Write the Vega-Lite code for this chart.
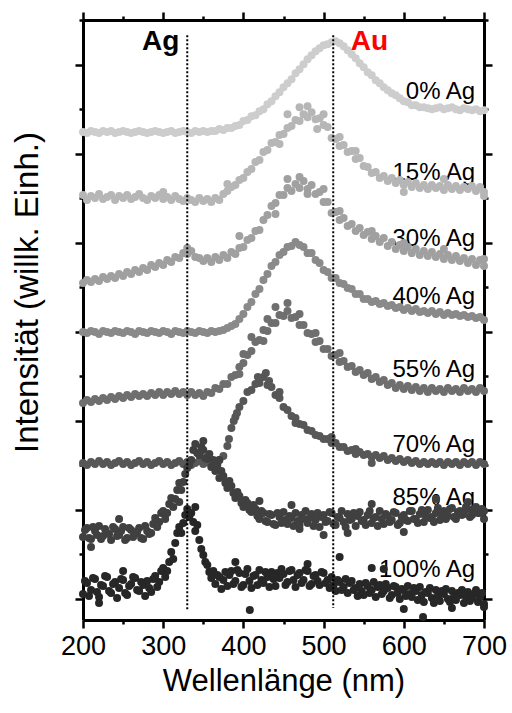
{
"$schema":"https://vega.github.io/schema/vega-lite/v6.json",
"width":401,"height":600,
"autosize":{"type":"none"},
"padding":{"left":83,"top":20,"right":28,"bottom":93},
"config":{"font":"Liberation Sans","view":{"stroke":null}},
"datasets":{
"labels":[{"t":"0% Ag","x":689,"y":500},{"t":"15% Ag","x":689,"y":419},{"t":"30% Ag","x":689,"y":353},{"t":"40% Ag","x":689,"y":295},{"t":"55% Ag","x":689,"y":222},{"t":"70% Ag","x":689,"y":147},{"t":"85% Ag","x":689,"y":94},{"t":"100% Ag","x":689,"y":22}],
"pts":[
{"p":0,"x":200,"y":467},{"p":0,"x":205,"y":466},{"p":0,"x":210,"y":468},{"p":0,"x":215,"y":467},{"p":0,"x":220,"y":466},{"p":0,"x":225,"y":468},{"p":0,"x":230,"y":467},{"p":0,"x":235,"y":468},{"p":0,"x":240,"y":466},{"p":0,"x":245,"y":467},{"p":0,"x":250,"y":468},{"p":0,"x":255,"y":467},{"p":0,"x":260,"y":466},{"p":0,"x":265,"y":467},{"p":0,"x":270,"y":468},{"p":0,"x":275,"y":467},{"p":0,"x":280,"y":466},{"p":0,"x":285,"y":467},{"p":0,"x":290,"y":468},{"p":0,"x":295,"y":467},{"p":0,"x":300,"y":466},{"p":0,"x":305,"y":467},{"p":0,"x":310,"y":468},{"p":0,"x":315,"y":466},{"p":0,"x":320,"y":467},{"p":0,"x":325,"y":468},{"p":0,"x":330,"y":467},{"p":0,"x":335,"y":466},{"p":0,"x":340,"y":468},{"p":0,"x":345,"y":467},{"p":0,"x":350,"y":468},{"p":0,"x":355,"y":467},{"p":0,"x":360,"y":468},{"p":0,"x":365,"y":468},{"p":0,"x":370,"y":470},{"p":0,"x":375,"y":469},{"p":0,"x":380,"y":471},{"p":0,"x":385,"y":471},{"p":0,"x":390,"y":473},{"p":0,"x":395,"y":474},{"p":0,"x":400,"y":478},{"p":0,"x":405,"y":479},{"p":0,"x":410,"y":483},{"p":0,"x":415,"y":484},{"p":0,"x":420,"y":488},{"p":0,"x":425,"y":490},{"p":0,"x":430,"y":495},{"p":0,"x":435,"y":498},{"p":0,"x":440,"y":503},{"p":0,"x":445,"y":507},{"p":0,"x":450,"y":512},{"p":0,"x":455,"y":516},{"p":0,"x":460,"y":520},{"p":0,"x":465,"y":526},{"p":0,"x":470,"y":530},{"p":0,"x":475,"y":535},{"p":0,"x":480,"y":540},{"p":0,"x":485,"y":544},{"p":0,"x":490,"y":548},{"p":0,"x":495,"y":551},{"p":0,"x":500,"y":554},{"p":0,"x":505,"y":555},{"p":0,"x":510,"y":557},{"p":0,"x":515,"y":558},{"p":0,"x":520,"y":556},{"p":0,"x":525,"y":553},{"p":0,"x":530,"y":549},{"p":0,"x":535,"y":545},{"p":0,"x":540,"y":541},{"p":0,"x":545,"y":536},{"p":0,"x":550,"y":532},{"p":0,"x":555,"y":527},{"p":0,"x":560,"y":524},{"p":0,"x":565,"y":519},{"p":0,"x":570,"y":516},{"p":0,"x":575,"y":512},{"p":0,"x":580,"y":509},{"p":0,"x":585,"y":506},{"p":0,"x":590,"y":504},{"p":0,"x":595,"y":501},{"p":0,"x":600,"y":498},{"p":0,"x":605,"y":497},{"p":0,"x":610,"y":494},{"p":0,"x":615,"y":494},{"p":0,"x":620,"y":492},{"p":0,"x":625,"y":492},{"p":0,"x":630,"y":491},{"p":0,"x":635,"y":490},{"p":0,"x":640,"y":491},{"p":0,"x":645,"y":492},{"p":0,"x":650,"y":490},{"p":0,"x":655,"y":491},{"p":0,"x":660,"y":492},{"p":0,"x":665,"y":490},{"p":0,"x":670,"y":489},{"p":0,"x":675,"y":491},{"p":0,"x":680,"y":490},{"p":0,"x":685,"y":489},{"p":0,"x":690,"y":490},{"p":0,"x":695,"y":488},{"p":0,"x":700,"y":489},
{"p":15,"x":200,"y":404},{"p":15,"x":205,"y":399},{"p":15,"x":210,"y":403},{"p":15,"x":215,"y":401},{"p":15,"x":220,"y":405},{"p":15,"x":225,"y":400},{"p":15,"x":230,"y":402},{"p":15,"x":235,"y":404},{"p":15,"x":240,"y":399},{"p":15,"x":245,"y":403},{"p":15,"x":250,"y":401},{"p":15,"x":255,"y":404},{"p":15,"x":260,"y":400},{"p":15,"x":265,"y":402},{"p":15,"x":270,"y":405},{"p":15,"x":275,"y":401},{"p":15,"x":280,"y":399},{"p":15,"x":285,"y":403},{"p":15,"x":290,"y":401},{"p":15,"x":295,"y":404},{"p":15,"x":300,"y":400},{"p":15,"x":305,"y":402},{"p":15,"x":310,"y":399},{"p":15,"x":315,"y":403},{"p":15,"x":320,"y":400},{"p":15,"x":325,"y":398},{"p":15,"x":330,"y":401},{"p":15,"x":335,"y":399},{"p":15,"x":340,"y":397},{"p":15,"x":345,"y":401},{"p":15,"x":350,"y":398},{"p":15,"x":355,"y":400},{"p":15,"x":360,"y":397},{"p":15,"x":365,"y":401},{"p":15,"x":370,"y":399},{"p":15,"x":375,"y":405},{"p":15,"x":380,"y":408},{"p":15,"x":385,"y":412},{"p":15,"x":390,"y":414},{"p":15,"x":395,"y":419},{"p":15,"x":400,"y":421},{"p":15,"x":405,"y":427},{"p":15,"x":410,"y":430},{"p":15,"x":415,"y":437},{"p":15,"x":420,"y":439},{"p":15,"x":425,"y":447},{"p":15,"x":430,"y":449},{"p":15,"x":435,"y":456},{"p":15,"x":440,"y":457},{"p":15,"x":445,"y":464},{"p":15,"x":450,"y":465},{"p":15,"x":455,"y":471},{"p":15,"x":460,"y":473},{"p":15,"x":465,"y":479},{"p":15,"x":470,"y":478},{"p":15,"x":475,"y":485},{"p":15,"x":480,"y":482},{"p":15,"x":485,"y":487},{"p":15,"x":490,"y":480},{"p":15,"x":495,"y":481},{"p":15,"x":500,"y":474},{"p":15,"x":505,"y":472},{"p":15,"x":510,"y":461},{"p":15,"x":515,"y":460},{"p":15,"x":520,"y":453},{"p":15,"x":525,"y":454},{"p":15,"x":530,"y":447},{"p":15,"x":535,"y":448},{"p":15,"x":540,"y":440},{"p":15,"x":545,"y":441},{"p":15,"x":550,"y":433},{"p":15,"x":555,"y":432},{"p":15,"x":560,"y":426},{"p":15,"x":565,"y":427},{"p":15,"x":570,"y":421},{"p":15,"x":575,"y":423},{"p":15,"x":580,"y":418},{"p":15,"x":585,"y":421},{"p":15,"x":590,"y":416},{"p":15,"x":595,"y":419},{"p":15,"x":600,"y":414},{"p":15,"x":605,"y":417},{"p":15,"x":610,"y":412},{"p":15,"x":615,"y":416},{"p":15,"x":620,"y":411},{"p":15,"x":625,"y":414},{"p":15,"x":630,"y":410},{"p":15,"x":635,"y":414},{"p":15,"x":640,"y":411},{"p":15,"x":645,"y":413},{"p":15,"x":650,"y":409},{"p":15,"x":655,"y":414},{"p":15,"x":660,"y":410},{"p":15,"x":665,"y":413},{"p":15,"x":670,"y":409},{"p":15,"x":675,"y":412},{"p":15,"x":680,"y":410},{"p":15,"x":685,"y":413},{"p":15,"x":690,"y":408},{"p":15,"x":695,"y":412},{"p":15,"x":700,"y":407},
{"p":15,"x":455,"y":485},{"p":15,"x":470,"y":492},{"p":15,"x":480,"y":493},{"p":15,"x":500,"y":485},{"p":15,"x":520,"y":462},{"p":15,"x":540,"y":448},{"p":15,"x":600,"y":407},{"p":15,"x":650,"y":420},{"p":15,"x":700,"y":403},{"p":15,"x":380,"y":415},{"p":15,"x":300,"y":407},{"p":15,"x":445,"y":455},{"p":15,"x":492,"y":470},
{"p":30,"x":200,"y":316},{"p":30,"x":205,"y":319},{"p":30,"x":210,"y":317},{"p":30,"x":215,"y":320},{"p":30,"x":220,"y":318},{"p":30,"x":225,"y":322},{"p":30,"x":230,"y":320},{"p":30,"x":235,"y":323},{"p":30,"x":240,"y":321},{"p":30,"x":245,"y":325},{"p":30,"x":250,"y":323},{"p":30,"x":255,"y":327},{"p":30,"x":260,"y":325},{"p":30,"x":265,"y":329},{"p":30,"x":270,"y":327},{"p":30,"x":275,"y":331},{"p":30,"x":280,"y":329},{"p":30,"x":285,"y":334},{"p":30,"x":290,"y":332},{"p":30,"x":295,"y":336},{"p":30,"x":300,"y":334},{"p":30,"x":305,"y":339},{"p":30,"x":310,"y":337},{"p":30,"x":315,"y":342},{"p":30,"x":320,"y":341},{"p":30,"x":325,"y":346},{"p":30,"x":330,"y":345},{"p":30,"x":335,"y":348},{"p":30,"x":340,"y":342},{"p":30,"x":345,"y":341},{"p":30,"x":350,"y":338},{"p":30,"x":355,"y":341},{"p":30,"x":360,"y":337},{"p":30,"x":365,"y":342},{"p":30,"x":370,"y":339},{"p":30,"x":375,"y":344},{"p":30,"x":380,"y":341},{"p":30,"x":385,"y":347},{"p":30,"x":390,"y":345},{"p":30,"x":395,"y":351},{"p":30,"x":400,"y":352},{"p":30,"x":405,"y":359},{"p":30,"x":410,"y":361},{"p":30,"x":415,"y":368},{"p":30,"x":420,"y":369},{"p":30,"x":425,"y":379},{"p":30,"x":430,"y":384},{"p":30,"x":435,"y":393},{"p":30,"x":440,"y":396},{"p":30,"x":445,"y":404},{"p":30,"x":450,"y":404},{"p":30,"x":455,"y":411},{"p":30,"x":460,"y":408},{"p":30,"x":465,"y":415},{"p":30,"x":470,"y":411},{"p":30,"x":475,"y":418},{"p":30,"x":480,"y":410},{"p":30,"x":485,"y":414},{"p":30,"x":490,"y":405},{"p":30,"x":495,"y":407},{"p":30,"x":500,"y":397},{"p":30,"x":505,"y":397},{"p":30,"x":510,"y":386},{"p":30,"x":515,"y":387},{"p":30,"x":520,"y":379},{"p":30,"x":525,"y":381},{"p":30,"x":530,"y":373},{"p":30,"x":535,"y":375},{"p":30,"x":540,"y":368},{"p":30,"x":545,"y":371},{"p":30,"x":550,"y":364},{"p":30,"x":555,"y":367},{"p":30,"x":560,"y":360},{"p":30,"x":565,"y":363},{"p":30,"x":570,"y":357},{"p":30,"x":575,"y":361},{"p":30,"x":580,"y":353},{"p":30,"x":585,"y":357},{"p":30,"x":590,"y":350},{"p":30,"x":595,"y":354},{"p":30,"x":600,"y":348},{"p":30,"x":605,"y":352},{"p":30,"x":610,"y":346},{"p":30,"x":615,"y":350},{"p":30,"x":620,"y":344},{"p":30,"x":625,"y":348},{"p":30,"x":630,"y":343},{"p":30,"x":635,"y":347},{"p":30,"x":640,"y":342},{"p":30,"x":645,"y":345},{"p":30,"x":650,"y":340},{"p":30,"x":655,"y":344},{"p":30,"x":660,"y":339},{"p":30,"x":665,"y":343},{"p":30,"x":670,"y":338},{"p":30,"x":675,"y":341},{"p":30,"x":680,"y":336},{"p":30,"x":685,"y":340},{"p":30,"x":690,"y":334},{"p":30,"x":695,"y":339},{"p":30,"x":700,"y":333},
{"p":30,"x":395,"y":363},{"p":30,"x":455,"y":420},{"p":30,"x":470,"y":422},{"p":30,"x":480,"y":405},{"p":30,"x":500,"y":410},{"p":30,"x":520,"y":388},{"p":30,"x":440,"y":385},{"p":30,"x":560,"y":368},{"p":30,"x":650,"y":350},{"p":30,"x":700,"y":340},{"p":30,"x":330,"y":351},{"p":30,"x":600,"y":356},
{"p":40,"x":200,"y":267},{"p":40,"x":205,"y":266},{"p":40,"x":210,"y":268},{"p":40,"x":215,"y":267},{"p":40,"x":220,"y":265},{"p":40,"x":225,"y":268},{"p":40,"x":230,"y":267},{"p":40,"x":235,"y":266},{"p":40,"x":240,"y":268},{"p":40,"x":245,"y":267},{"p":40,"x":250,"y":266},{"p":40,"x":255,"y":268},{"p":40,"x":260,"y":267},{"p":40,"x":265,"y":265},{"p":40,"x":270,"y":268},{"p":40,"x":275,"y":267},{"p":40,"x":280,"y":266},{"p":40,"x":285,"y":268},{"p":40,"x":290,"y":267},{"p":40,"x":295,"y":266},{"p":40,"x":300,"y":268},{"p":40,"x":305,"y":267},{"p":40,"x":310,"y":265},{"p":40,"x":315,"y":268},{"p":40,"x":320,"y":267},{"p":40,"x":325,"y":266},{"p":40,"x":330,"y":268},{"p":40,"x":335,"y":267},{"p":40,"x":340,"y":266},{"p":40,"x":345,"y":268},{"p":40,"x":350,"y":267},{"p":40,"x":355,"y":266},{"p":40,"x":360,"y":268},{"p":40,"x":365,"y":267},{"p":40,"x":370,"y":268},{"p":40,"x":375,"y":269},{"p":40,"x":380,"y":271},{"p":40,"x":385,"y":273},{"p":40,"x":390,"y":275},{"p":40,"x":395,"y":280},{"p":40,"x":400,"y":285},{"p":40,"x":405,"y":292},{"p":40,"x":410,"y":297},{"p":40,"x":415,"y":305},{"p":40,"x":420,"y":310},{"p":40,"x":425,"y":319},{"p":40,"x":430,"y":325},{"p":40,"x":435,"y":333},{"p":40,"x":440,"y":337},{"p":40,"x":445,"y":344},{"p":40,"x":450,"y":347},{"p":40,"x":455,"y":352},{"p":40,"x":460,"y":353},{"p":40,"x":465,"y":357},{"p":40,"x":470,"y":354},{"p":40,"x":475,"y":352},{"p":40,"x":480,"y":346},{"p":40,"x":485,"y":346},{"p":40,"x":490,"y":339},{"p":40,"x":495,"y":336},{"p":40,"x":500,"y":329},{"p":40,"x":505,"y":327},{"p":40,"x":510,"y":321},{"p":40,"x":515,"y":321},{"p":40,"x":520,"y":316},{"p":40,"x":525,"y":315},{"p":40,"x":530,"y":311},{"p":40,"x":535,"y":310},{"p":40,"x":540,"y":305},{"p":40,"x":545,"y":305},{"p":40,"x":550,"y":300},{"p":40,"x":555,"y":300},{"p":40,"x":560,"y":297},{"p":40,"x":565,"y":298},{"p":40,"x":570,"y":295},{"p":40,"x":575,"y":296},{"p":40,"x":580,"y":293},{"p":40,"x":585,"y":294},{"p":40,"x":590,"y":291},{"p":40,"x":595,"y":292},{"p":40,"x":600,"y":289},{"p":40,"x":605,"y":291},{"p":40,"x":610,"y":288},{"p":40,"x":615,"y":290},{"p":40,"x":620,"y":287},{"p":40,"x":625,"y":288},{"p":40,"x":630,"y":286},{"p":40,"x":635,"y":288},{"p":40,"x":640,"y":285},{"p":40,"x":645,"y":287},{"p":40,"x":650,"y":284},{"p":40,"x":655,"y":286},{"p":40,"x":660,"y":284},{"p":40,"x":665,"y":285},{"p":40,"x":670,"y":283},{"p":40,"x":675,"y":284},{"p":40,"x":680,"y":282},{"p":40,"x":685,"y":283},{"p":40,"x":690,"y":281},{"p":40,"x":695,"y":282},{"p":40,"x":700,"y":279},
{"p":55,"x":200,"y":196},{"p":55,"x":205,"y":199},{"p":55,"x":210,"y":197},{"p":55,"x":215,"y":200},{"p":55,"x":220,"y":198},{"p":55,"x":225,"y":201},{"p":55,"x":230,"y":199},{"p":55,"x":235,"y":202},{"p":55,"x":240,"y":200},{"p":55,"x":245,"y":203},{"p":55,"x":250,"y":201},{"p":55,"x":255,"y":204},{"p":55,"x":260,"y":202},{"p":55,"x":265,"y":205},{"p":55,"x":270,"y":203},{"p":55,"x":275,"y":205},{"p":55,"x":280,"y":203},{"p":55,"x":285,"y":206},{"p":55,"x":290,"y":204},{"p":55,"x":295,"y":207},{"p":55,"x":300,"y":204},{"p":55,"x":305,"y":207},{"p":55,"x":310,"y":205},{"p":55,"x":315,"y":208},{"p":55,"x":320,"y":205},{"p":55,"x":325,"y":207},{"p":55,"x":330,"y":204},{"p":55,"x":335,"y":207},{"p":55,"x":340,"y":204},{"p":55,"x":345,"y":206},{"p":55,"x":350,"y":203},{"p":55,"x":355,"y":207},{"p":55,"x":360,"y":206},{"p":55,"x":365,"y":211},{"p":55,"x":370,"y":210},{"p":55,"x":375,"y":215},{"p":55,"x":380,"y":215},{"p":55,"x":385,"y":222},{"p":55,"x":390,"y":224},{"p":55,"x":395,"y":232},{"p":55,"x":400,"y":236},{"p":55,"x":405,"y":244},{"p":55,"x":410,"y":248},{"p":55,"x":415,"y":257},{"p":55,"x":420,"y":259},{"p":55,"x":425,"y":269},{"p":55,"x":430,"y":268},{"p":55,"x":435,"y":276},{"p":55,"x":440,"y":276},{"p":55,"x":445,"y":284},{"p":55,"x":450,"y":283},{"p":55,"x":455,"y":288},{"p":55,"x":460,"y":281},{"p":55,"x":465,"y":282},{"p":55,"x":470,"y":274},{"p":55,"x":475,"y":274},{"p":55,"x":480,"y":266},{"p":55,"x":485,"y":265},{"p":55,"x":490,"y":257},{"p":55,"x":495,"y":258},{"p":55,"x":500,"y":250},{"p":55,"x":505,"y":250},{"p":55,"x":510,"y":243},{"p":55,"x":515,"y":244},{"p":55,"x":520,"y":237},{"p":55,"x":525,"y":238},{"p":55,"x":530,"y":232},{"p":55,"x":535,"y":233},{"p":55,"x":540,"y":227},{"p":55,"x":545,"y":229},{"p":55,"x":550,"y":224},{"p":55,"x":555,"y":226},{"p":55,"x":560,"y":220},{"p":55,"x":565,"y":222},{"p":55,"x":570,"y":217},{"p":55,"x":575,"y":219},{"p":55,"x":580,"y":214},{"p":55,"x":585,"y":216},{"p":55,"x":590,"y":211},{"p":55,"x":595,"y":214},{"p":55,"x":600,"y":210},{"p":55,"x":605,"y":213},{"p":55,"x":610,"y":209},{"p":55,"x":615,"y":212},{"p":55,"x":620,"y":208},{"p":55,"x":625,"y":211},{"p":55,"x":630,"y":207},{"p":55,"x":635,"y":211},{"p":55,"x":640,"y":208},{"p":55,"x":645,"y":210},{"p":55,"x":650,"y":207},{"p":55,"x":655,"y":211},{"p":55,"x":660,"y":208},{"p":55,"x":665,"y":210},{"p":55,"x":670,"y":207},{"p":55,"x":675,"y":211},{"p":55,"x":680,"y":208},{"p":55,"x":685,"y":210},{"p":55,"x":690,"y":207},{"p":55,"x":695,"y":211},{"p":55,"x":700,"y":208},
{"p":55,"x":410,"y":262},{"p":55,"x":425,"y":258},{"p":55,"x":440,"y":292},{"p":55,"x":455,"y":296},{"p":55,"x":470,"y":285},{"p":55,"x":490,"y":266},{"p":55,"x":520,"y":246},{"p":55,"x":430,"y":280},{"p":55,"x":400,"y":245},{"p":55,"x":395,"y":225},
{"p":70,"x":200,"y":136},{"p":70,"x":205,"y":134},{"p":70,"x":210,"y":137},{"p":70,"x":215,"y":135},{"p":70,"x":220,"y":138},{"p":70,"x":225,"y":135},{"p":70,"x":230,"y":137},{"p":70,"x":235,"y":134},{"p":70,"x":240,"y":136},{"p":70,"x":245,"y":138},{"p":70,"x":250,"y":135},{"p":70,"x":255,"y":137},{"p":70,"x":260,"y":134},{"p":70,"x":265,"y":136},{"p":70,"x":270,"y":138},{"p":70,"x":275,"y":135},{"p":70,"x":280,"y":137},{"p":70,"x":285,"y":134},{"p":70,"x":290,"y":136},{"p":70,"x":295,"y":138},{"p":70,"x":300,"y":135},{"p":70,"x":305,"y":137},{"p":70,"x":310,"y":134},{"p":70,"x":315,"y":136},{"p":70,"x":320,"y":138},{"p":70,"x":325,"y":135},{"p":70,"x":330,"y":137},{"p":70,"x":335,"y":134},{"p":70,"x":340,"y":136},{"p":70,"x":345,"y":138},{"p":70,"x":350,"y":135},{"p":70,"x":355,"y":137},{"p":70,"x":360,"y":134},{"p":70,"x":365,"y":136},{"p":70,"x":370,"y":139},{"p":70,"x":375,"y":143},{"p":70,"x":380,"y":153},{"p":70,"x":385,"y":171},{"p":70,"x":390,"y":182},{"p":70,"x":395,"y":192},{"p":70,"x":400,"y":198},{"p":70,"x":405,"y":207},{"p":70,"x":410,"y":209},{"p":70,"x":415,"y":215},{"p":70,"x":420,"y":216},{"p":70,"x":425,"y":222},{"p":70,"x":430,"y":214},{"p":70,"x":435,"y":212},{"p":70,"x":440,"y":204},{"p":70,"x":445,"y":201},{"p":70,"x":450,"y":192},{"p":70,"x":455,"y":189},{"p":70,"x":460,"y":183},{"p":70,"x":465,"y":181},{"p":70,"x":470,"y":175},{"p":70,"x":475,"y":174},{"p":70,"x":480,"y":169},{"p":70,"x":485,"y":168},{"p":70,"x":490,"y":164},{"p":70,"x":495,"y":163},{"p":70,"x":500,"y":160},{"p":70,"x":505,"y":160},{"p":70,"x":510,"y":156},{"p":70,"x":515,"y":156},{"p":70,"x":520,"y":152},{"p":70,"x":525,"y":152},{"p":70,"x":530,"y":148},{"p":70,"x":535,"y":149},{"p":70,"x":540,"y":145},{"p":70,"x":545,"y":147},{"p":70,"x":550,"y":144},{"p":70,"x":555,"y":145},{"p":70,"x":560,"y":142},{"p":70,"x":565,"y":144},{"p":70,"x":570,"y":141},{"p":70,"x":575,"y":143},{"p":70,"x":580,"y":139},{"p":70,"x":585,"y":141},{"p":70,"x":590,"y":138},{"p":70,"x":595,"y":140},{"p":70,"x":600,"y":137},{"p":70,"x":605,"y":139},{"p":70,"x":610,"y":136},{"p":70,"x":615,"y":138},{"p":70,"x":620,"y":135},{"p":70,"x":625,"y":137},{"p":70,"x":630,"y":135},{"p":70,"x":635,"y":137},{"p":70,"x":640,"y":135},{"p":70,"x":645,"y":137},{"p":70,"x":650,"y":134},{"p":70,"x":655,"y":137},{"p":70,"x":660,"y":135},{"p":70,"x":665,"y":137},{"p":70,"x":670,"y":134},{"p":70,"x":675,"y":137},{"p":70,"x":680,"y":135},{"p":70,"x":685,"y":137},{"p":70,"x":690,"y":134},{"p":70,"x":695,"y":137},{"p":70,"x":700,"y":135},
{"p":70,"x":382,"y":160},{"p":70,"x":388,"y":178},{"p":70,"x":392,"y":186},{"p":70,"x":418,"y":222},{"p":70,"x":428,"y":226},{"p":70,"x":432,"y":218},{"p":70,"x":445,"y":207},{"p":70,"x":465,"y":176},{"p":70,"x":510,"y":162},{"p":70,"x":540,"y":150},{"p":70,"x":560,"y":136},
{"p":85,"x":200,"y":62},{"p":85,"x":202.5,"y":69},{"p":85,"x":205,"y":71},{"p":85,"x":207.5,"y":61},{"p":85,"x":210,"y":60},{"p":85,"x":212.5,"y":72},{"p":85,"x":215,"y":68},{"p":85,"x":217.5,"y":64},{"p":85,"x":220,"y":73},{"p":85,"x":222.5,"y":60},{"p":85,"x":225,"y":63},{"p":85,"x":227.5,"y":70},{"p":85,"x":230,"y":66},{"p":85,"x":232.5,"y":65},{"p":85,"x":235,"y":59},{"p":85,"x":237.5,"y":72},{"p":85,"x":240,"y":70},{"p":85,"x":242.5,"y":63},{"p":85,"x":245,"y":64},{"p":85,"x":247.5,"y":68},{"p":85,"x":250,"y":72},{"p":85,"x":252.5,"y":59},{"p":85,"x":255,"y":61},{"p":85,"x":257.5,"y":71},{"p":85,"x":260,"y":69},{"p":85,"x":262.5,"y":62},{"p":85,"x":265,"y":65},{"p":85,"x":267.5,"y":67},{"p":85,"x":270,"y":71},{"p":85,"x":272.5,"y":61},{"p":85,"x":275,"y":60},{"p":85,"x":277.5,"y":73},{"p":85,"x":280,"y":68},{"p":85,"x":282.5,"y":65},{"p":85,"x":285,"y":66},{"p":85,"x":287.5,"y":75},{"p":85,"x":290,"y":81},{"p":85,"x":292.5,"y":72},{"p":85,"x":295,"y":77},{"p":85,"x":297.5,"y":86},{"p":85,"x":300,"y":88},{"p":85,"x":302.5,"y":80},{"p":85,"x":305,"y":86},{"p":85,"x":307.5,"y":95},{"p":85,"x":310,"y":101},{"p":85,"x":312.5,"y":92},{"p":85,"x":315,"y":100},{"p":85,"x":317.5,"y":109},{"p":85,"x":320,"y":116},{"p":85,"x":322.5,"y":109},{"p":85,"x":325,"y":117},{"p":85,"x":327.5,"y":125},{"p":85,"x":330,"y":131},{"p":85,"x":332.5,"y":134},{"p":85,"x":335,"y":139},{"p":85,"x":337.5,"y":149},{"p":85,"x":340,"y":155},{"p":85,"x":342.5,"y":146},{"p":85,"x":345,"y":144},{"p":85,"x":347.5,"y":152},{"p":85,"x":350,"y":149},{"p":85,"x":352.5,"y":141},{"p":85,"x":355,"y":140},{"p":85,"x":357.5,"y":145},{"p":85,"x":360,"y":132},{"p":85,"x":362.5,"y":139},{"p":85,"x":365,"y":128},{"p":85,"x":367.5,"y":134},{"p":85,"x":370,"y":121},{"p":85,"x":372.5,"y":128},{"p":85,"x":375,"y":123},{"p":85,"x":377.5,"y":116},{"p":85,"x":380,"y":111},{"p":85,"x":382.5,"y":118},{"p":85,"x":385,"y":113},{"p":85,"x":387.5,"y":106},{"p":85,"x":390,"y":101},{"p":85,"x":392.5,"y":107},{"p":85,"x":395,"y":103},{"p":85,"x":397.5,"y":96},{"p":85,"x":400,"y":92},{"p":85,"x":402.5,"y":99},{"p":85,"x":405,"y":96},{"p":85,"x":407.5,"y":89},{"p":85,"x":410,"y":87},{"p":85,"x":412.5,"y":94},{"p":85,"x":415,"y":90},{"p":85,"x":417.5,"y":83},{"p":85,"x":420,"y":80},{"p":85,"x":422.5,"y":88},{"p":85,"x":425,"y":86},{"p":85,"x":427.5,"y":78},{"p":85,"x":430,"y":77},{"p":85,"x":432.5,"y":85},{"p":85,"x":435,"y":84},{"p":85,"x":437.5,"y":75},{"p":85,"x":440,"y":74},{"p":85,"x":442.5,"y":86},{"p":85,"x":445,"y":82},{"p":85,"x":447.5,"y":76},{"p":85,"x":450,"y":87},{"p":85,"x":452.5,"y":79},{"p":85,"x":455,"y":75},{"p":85,"x":457.5,"y":83},{"p":85,"x":460,"y":81},{"p":85,"x":462.5,"y":73},{"p":85,"x":465,"y":86},{"p":85,"x":467.5,"y":78},{"p":85,"x":470,"y":74},{"p":85,"x":472.5,"y":84},{"p":85,"x":475,"y":80},{"p":85,"x":477.5,"y":88},{"p":85,"x":480,"y":76},{"p":85,"x":482.5,"y":81},{"p":85,"x":485,"y":85},{"p":85,"x":487.5,"y":73},{"p":85,"x":490,"y":79},{"p":85,"x":492.5,"y":86},{"p":85,"x":495,"y":72},{"p":85,"x":497.5,"y":82},{"p":85,"x":500,"y":84},{"p":85,"x":502.5,"y":77},{"p":85,"x":505,"y":78},{"p":85,"x":507.5,"y":87},{"p":85,"x":510,"y":86},{"p":85,"x":512.5,"y":75},{"p":85,"x":515,"y":74},{"p":85,"x":517.5,"y":82},{"p":85,"x":520,"y":81},{"p":85,"x":522.5,"y":88},{"p":85,"x":525,"y":77},{"p":85,"x":527.5,"y":72},{"p":85,"x":530,"y":85},{"p":85,"x":532.5,"y":79},{"p":85,"x":535,"y":80},{"p":85,"x":537.5,"y":86},{"p":85,"x":540,"y":73},{"p":85,"x":542.5,"y":83},{"p":85,"x":545,"y":87},{"p":85,"x":547.5,"y":78},{"p":85,"x":550,"y":79},{"p":85,"x":552.5,"y":74},{"p":85,"x":555,"y":84},{"p":85,"x":557.5,"y":88},{"p":85,"x":560,"y":76},{"p":85,"x":562.5,"y":81},{"p":85,"x":565,"y":82},{"p":85,"x":567.5,"y":73},{"p":85,"x":570,"y":88},{"p":85,"x":572.5,"y":80},{"p":85,"x":575,"y":75},{"p":85,"x":577.5,"y":85},{"p":85,"x":580,"y":83},{"p":85,"x":582.5,"y":77},{"p":85,"x":585,"y":79},{"p":85,"x":587.5,"y":87},{"p":85,"x":590,"y":86},{"p":85,"x":592.5,"y":74},{"p":85,"x":595,"y":76},{"p":85,"x":597.5,"y":82},{"p":85,"x":600,"y":84},{"p":85,"x":602.5,"y":79},{"p":85,"x":605,"y":78},{"p":85,"x":607.5,"y":88},{"p":85,"x":610,"y":88},{"p":85,"x":612.5,"y":80},{"p":85,"x":615,"y":80},{"p":85,"x":617.5,"y":76},{"p":85,"x":620,"y":85},{"p":85,"x":622.5,"y":89},{"p":85,"x":625,"y":77},{"p":85,"x":627.5,"y":83},{"p":85,"x":630,"y":89},{"p":85,"x":632.5,"y":81},{"p":85,"x":635,"y":82},{"p":85,"x":637.5,"y":77},{"p":85,"x":640,"y":86},{"p":85,"x":642.5,"y":91},{"p":85,"x":645,"y":79},{"p":85,"x":647.5,"y":84},{"p":85,"x":650,"y":88},{"p":85,"x":652.5,"y":80},{"p":85,"x":655,"y":83},{"p":85,"x":657.5,"y":90},{"p":85,"x":660,"y":91},{"p":85,"x":662.5,"y":82},{"p":85,"x":665,"y":80},{"p":85,"x":667.5,"y":87},{"p":85,"x":670,"y":88},{"p":85,"x":672.5,"y":84},{"p":85,"x":675,"y":85},{"p":85,"x":677.5,"y":92},{"p":85,"x":680,"y":90},{"p":85,"x":682.5,"y":82},{"p":85,"x":685,"y":84},{"p":85,"x":687.5,"y":89},{"p":85,"x":690,"y":92},{"p":85,"x":692.5,"y":86},{"p":85,"x":695,"y":86},{"p":85,"x":697.5,"y":90},{"p":85,"x":700,"y":88},
{"p":85,"x":420,"y":98},{"p":85,"x":460,"y":94},{"p":85,"x":500,"y":64},{"p":85,"x":530,"y":66},{"p":85,"x":560,"y":95},{"p":85,"x":600,"y":67},{"p":85,"x":640,"y":100},{"p":85,"x":680,"y":97},{"p":85,"x":210,"y":52},{"p":85,"x":245,"y":80},{"p":85,"x":320,"y":97},{"p":85,"x":350,"y":158},{"p":85,"x":370,"y":139},{"p":85,"x":470,"y":70},{"p":85,"x":700,"y":80},
{"p":100,"x":200,"y":5},{"p":100,"x":202.5,"y":18},{"p":100,"x":205,"y":16},{"p":100,"x":207.5,"y":3},{"p":100,"x":210,"y":9},{"p":100,"x":212.5,"y":21},{"p":100,"x":215,"y":20},{"p":100,"x":217.5,"y":7},{"p":100,"x":220,"y":2},{"p":100,"x":222.5,"y":14},{"p":100,"x":225,"y":13},{"p":100,"x":227.5,"y":23},{"p":100,"x":230,"y":22},{"p":100,"x":232.5,"y":8},{"p":100,"x":235,"y":6},{"p":100,"x":237.5,"y":15},{"p":100,"x":240,"y":17},{"p":100,"x":242.5,"y":1},{"p":100,"x":245,"y":11},{"p":100,"x":247.5,"y":20},{"p":100,"x":250,"y":19},{"p":100,"x":252.5,"y":6},{"p":100,"x":255,"y":4},{"p":100,"x":257.5,"y":13},{"p":100,"x":260,"y":15},{"p":100,"x":262.5,"y":22},{"p":100,"x":265,"y":21},{"p":100,"x":267.5,"y":9},{"p":100,"x":270,"y":8},{"p":100,"x":272.5,"y":17},{"p":100,"x":275,"y":14},{"p":100,"x":277.5,"y":3},{"p":100,"x":280,"y":18},{"p":100,"x":282.5,"y":11},{"p":100,"x":285,"y":7},{"p":100,"x":287.5,"y":20},{"p":100,"x":290,"y":23},{"p":100,"x":292.5,"y":12},{"p":100,"x":295,"y":17},{"p":100,"x":297.5,"y":28},{"p":100,"x":300,"y":31},{"p":100,"x":302.5,"y":22},{"p":100,"x":305,"y":28},{"p":100,"x":307.5,"y":37},{"p":100,"x":310,"y":47},{"p":100,"x":312.5,"y":40},{"p":100,"x":315,"y":56},{"p":100,"x":317.5,"y":66},{"p":100,"x":320,"y":72},{"p":100,"x":322.5,"y":66},{"p":100,"x":325,"y":76},{"p":100,"x":327.5,"y":84},{"p":100,"x":330,"y":90},{"p":100,"x":332.5,"y":82},{"p":100,"x":335,"y":86},{"p":100,"x":337.5,"y":77},{"p":100,"x":340,"y":68},{"p":100,"x":342.5,"y":74},{"p":100,"x":345,"y":59},{"p":100,"x":347.5,"y":50},{"p":100,"x":350,"y":44},{"p":100,"x":352.5,"y":37},{"p":100,"x":355,"y":34},{"p":100,"x":357.5,"y":27},{"p":100,"x":360,"y":21},{"p":100,"x":362.5,"y":28},{"p":100,"x":365,"y":15},{"p":100,"x":367.5,"y":24},{"p":100,"x":370,"y":22},{"p":100,"x":372.5,"y":10},{"p":100,"x":375,"y":19},{"p":100,"x":377.5,"y":27},{"p":100,"x":380,"y":13},{"p":100,"x":382.5,"y":24},{"p":100,"x":385,"y":28},{"p":100,"x":387.5,"y":15},{"p":100,"x":390,"y":18},{"p":100,"x":392.5,"y":29},{"p":100,"x":395,"y":26},{"p":100,"x":397.5,"y":12},{"p":100,"x":400,"y":14},{"p":100,"x":402.5,"y":25},{"p":100,"x":405,"y":30},{"p":100,"x":407.5,"y":18},{"p":100,"x":410,"y":11},{"p":100,"x":412.5,"y":23},{"p":100,"x":415,"y":24},{"p":100,"x":417.5,"y":14},{"p":100,"x":420,"y":29},{"p":100,"x":422.5,"y":19},{"p":100,"x":425,"y":16},{"p":100,"x":427.5,"y":27},{"p":100,"x":430,"y":22},{"p":100,"x":432.5,"y":12},{"p":100,"x":435,"y":27},{"p":100,"x":437.5,"y":20},{"p":100,"x":440,"y":13},{"p":100,"x":442.5,"y":26},{"p":100,"x":445,"y":21},{"p":100,"x":447.5,"y":30},{"p":100,"x":450,"y":25},{"p":100,"x":452.5,"y":14},{"p":100,"x":455,"y":17},{"p":100,"x":457.5,"y":28},{"p":100,"x":460,"y":29},{"p":100,"x":462.5,"y":19},{"p":100,"x":465,"y":12},{"p":100,"x":467.5,"y":24},{"p":100,"x":470,"y":26},{"p":100,"x":472.5,"y":16},{"p":100,"x":475,"y":19},{"p":100,"x":477.5,"y":29},{"p":100,"x":480,"y":28},{"p":100,"x":482.5,"y":13},{"p":100,"x":485,"y":15},{"p":100,"x":487.5,"y":23},{"p":100,"x":490,"y":24},{"p":100,"x":492.5,"y":18},{"p":100,"x":495,"y":14},{"p":100,"x":497.5,"y":27},{"p":100,"x":500,"y":26},{"p":100,"x":502.5,"y":16},{"p":100,"x":505,"y":19},{"p":100,"x":507.5,"y":11},{"p":100,"x":510,"y":22},{"p":100,"x":512.5,"y":14},{"p":100,"x":515,"y":8},{"p":100,"x":517.5,"y":19},{"p":100,"x":520,"y":17},{"p":100,"x":522.5,"y":9},{"p":100,"x":525,"y":12},{"p":100,"x":527.5,"y":20},{"p":100,"x":530,"y":6},{"p":100,"x":532.5,"y":16},{"p":100,"x":535,"y":18},{"p":100,"x":537.5,"y":9},{"p":100,"x":540,"y":11},{"p":100,"x":542.5,"y":3},{"p":100,"x":545,"y":15},{"p":100,"x":547.5,"y":8},{"p":100,"x":550,"y":4},{"p":100,"x":552.5,"y":16},{"p":100,"x":555,"y":13},{"p":100,"x":557.5,"y":6},{"p":100,"x":560,"y":9},{"p":100,"x":562.5,"y":17},{"p":100,"x":565,"y":2},{"p":100,"x":567.5,"y":12},{"p":100,"x":570,"y":14},{"p":100,"x":572.5,"y":5},{"p":100,"x":575,"y":8},{"p":100,"x":577.5,"y":15},{"p":100,"x":580,"y":11},{"p":100,"x":582.5,"y":1},{"p":100,"x":585,"y":4},{"p":100,"x":587.5,"y":13},{"p":100,"x":590,"y":12},{"p":100,"x":592.5,"y":6},{"p":100,"x":595,"y":0},{"p":100,"x":597.5,"y":10},{"p":100,"x":600,"y":9},{"p":100,"x":602.5,"y":3},{"p":100,"x":605,"y":13},{"p":100,"x":607.5,"y":5},{"p":100,"x":610,"y":2},{"p":100,"x":612.5,"y":11},{"p":100,"x":615,"y":8},{"p":100,"x":617.5,"y":-1},{"p":100,"x":620,"y":12},{"p":100,"x":622.5,"y":4},{"p":100,"x":625,"y":-3},{"p":100,"x":627.5,"y":7},{"p":100,"x":630,"y":6},{"p":100,"x":632.5,"y":11},{"p":100,"x":635,"y":1},{"p":100,"x":637.5,"y":-4},{"p":100,"x":640,"y":9},{"p":100,"x":642.5,"y":3},{"p":100,"x":645,"y":-2},{"p":100,"x":647.5,"y":8},{"p":100,"x":650,"y":5},{"p":100,"x":652.5,"y":10},{"p":100,"x":655,"y":0},{"p":100,"x":657.5,"y":-3},{"p":100,"x":660,"y":8},{"p":100,"x":662.5,"y":2},{"p":100,"x":665,"y":-1},{"p":100,"x":667.5,"y":6},{"p":100,"x":670,"y":4},{"p":100,"x":672.5,"y":9},{"p":100,"x":675,"y":-4},{"p":100,"x":677.5,"y":2},{"p":100,"x":680,"y":7},{"p":100,"x":682.5,"y":-2},{"p":100,"x":685,"y":1},{"p":100,"x":687.5,"y":5},{"p":100,"x":690,"y":9},{"p":100,"x":692.5,"y":-3},{"p":100,"x":695,"y":2},{"p":100,"x":697.5,"y":6},{"p":100,"x":700,"y":-5},
{"p":100,"x":408,"y":-11},{"p":100,"x":624,"y":-18},{"p":100,"x":520,"y":42},{"p":100,"x":480,"y":35},{"p":100,"x":390,"y":37},{"p":100,"x":560,"y":31},{"p":100,"x":600,"y":-10},{"p":100,"x":660,"y":-9},{"p":100,"x":700,"y":-8},{"p":100,"x":250,"y":28},{"p":100,"x":220,"y":-4},{"p":100,"x":340,"y":92},{"p":100,"x":575,"y":30}
]},
"layer":[
{"data":{"name":"labels"},
 "mark":{"type":"text","align":"right","baseline":"alphabetic","fontSize":24,"color":"black"},
 "encoding":{
  "x":{"field":"x","type":"quantitative","scale":{"domain":[200,700],"nice":false,"zero":false},
   "axis":{"orient":"top","values":[200,300,400,500,600,700],"tickSize":8,"tickWidth":2.5,"tickColor":"black","domainColor":"black","domainWidth":3,"labels":false,"title":null,"grid":false}},
  "y":{"field":"y","type":"quantitative","scale":{"domain":[-21,579.15],"nice":false,"zero":false},
   "axis":{"orient":"right","values":[0,89.1,178.2,267.3,356.4,445.5,534.6],"tickSize":8,"tickWidth":2.5,"tickColor":"black","domainColor":"black","domainWidth":3,"labels":false,"title":null,"grid":false}},
  "text":{"field":"t"}}},
{"data":{"name":"pts"},
 "mark":{"type":"point","filled":true,"opacity":1,"size":64,"shape":"circle"},
 "encoding":{
  "x":{"field":"x","type":"quantitative","scale":{"domain":[200,700],"nice":false,"zero":false},
   "axis":{"orient":"bottom","values":[200,300,400,500,600,700],"tickSize":8,"tickWidth":2.5,"tickColor":"black","domainColor":"black","domainWidth":3,"labelFontSize":27,"labelColor":"black","labelPadding":5,"labelFlush":false,"labelOverlap":false,"title":"Wellenlänge (nm)","titleFontSize":31,"titleFontWeight":"normal","titleColor":"black","titlePadding":7,"grid":false}},
  "y":{"field":"y","type":"quantitative","scale":{"domain":[-21,579.15],"nice":false,"zero":false},
   "axis":{"orient":"left","values":[0,89.1,178.2,267.3,356.4,445.5,534.6],"tickSize":8,"tickWidth":2.5,"tickColor":"black","domainColor":"black","domainWidth":3,"labels":false,"title":"Intensität (willk. Einh.)","titleFontSize":33,"titleFontWeight":"normal","titleColor":"black","titlePadding":29,"titleY":272,"grid":false}},
  "color":{"field":"p","type":"ordinal","scale":{"domain":[0,15,30,40,55,70,85,100],"range":["#cdcdcd","#b6b6b6","#a0a0a0","#8a8a8a","#6f6f6f","#575757","#404040","#272727"]},"legend":null}}},
{"data":{"values":[{"x":330,"y":564,"y2":-11},{"x":512,"y":564,"y2":-9}]},
 "mark":{"type":"rule","strokeDash":[2,2],"strokeWidth":2,"color":"black"},
 "encoding":{
  "x":{"field":"x","type":"quantitative","scale":{"domain":[200,700],"nice":false,"zero":false},
   "axis":{"orient":"bottom","values":[250,350,450,550,650],"tickSize":4,"tickWidth":2.5,"tickColor":"black","domain":false,"labels":false,"title":null,"grid":false}},
  "y":{"field":"y","type":"quantitative","scale":{"domain":[-21,579.15],"nice":false,"zero":false},
   "axis":{"orient":"left","values":[44.55,133.65,222.75,311.85,400.95,490.05,579.15],"tickSize":4,"tickWidth":2.5,"tickColor":"black","domain":false,"labels":false,"title":null,"grid":false}},
  "y2":{"field":"y2"}}},
{"data":{"values":[{"t":"Ag","x":320,"y":549}]},
 "mark":{"type":"text","align":"right","baseline":"alphabetic","fontSize":28,"fontWeight":"bold","color":"black"},
 "encoding":{
  "x":{"field":"x","type":"quantitative","scale":{"domain":[200,700],"nice":false,"zero":false},
   "axis":{"orient":"top","values":[250,350,450,550,650],"tickSize":4,"tickWidth":2.5,"tickColor":"black","domain":false,"labels":false,"title":null,"grid":false}},
  "y":{"field":"y","type":"quantitative","scale":{"domain":[-21,579.15],"nice":false,"zero":false},
   "axis":{"orient":"right","values":[44.55,133.65,222.75,311.85,400.95,490.05,579.15],"tickSize":4,"tickWidth":2.5,"tickColor":"black","domain":false,"labels":false,"title":null,"grid":false}},
  "text":{"field":"t"}}},
{"data":{"values":[{"t":"Au","x":534,"y":549}]},
 "mark":{"type":"text","align":"left","baseline":"alphabetic","fontSize":28,"fontWeight":"bold","color":"#ff0000"},
 "encoding":{
  "x":{"field":"x","type":"quantitative","scale":{"domain":[200,700],"nice":false,"zero":false},"axis":null},
  "y":{"field":"y","type":"quantitative","scale":{"domain":[-21,579.15],"nice":false,"zero":false},"axis":null},
  "text":{"field":"t"}}}
],
"resolve":{"axis":{"x":"independent","y":"independent"}}
}
